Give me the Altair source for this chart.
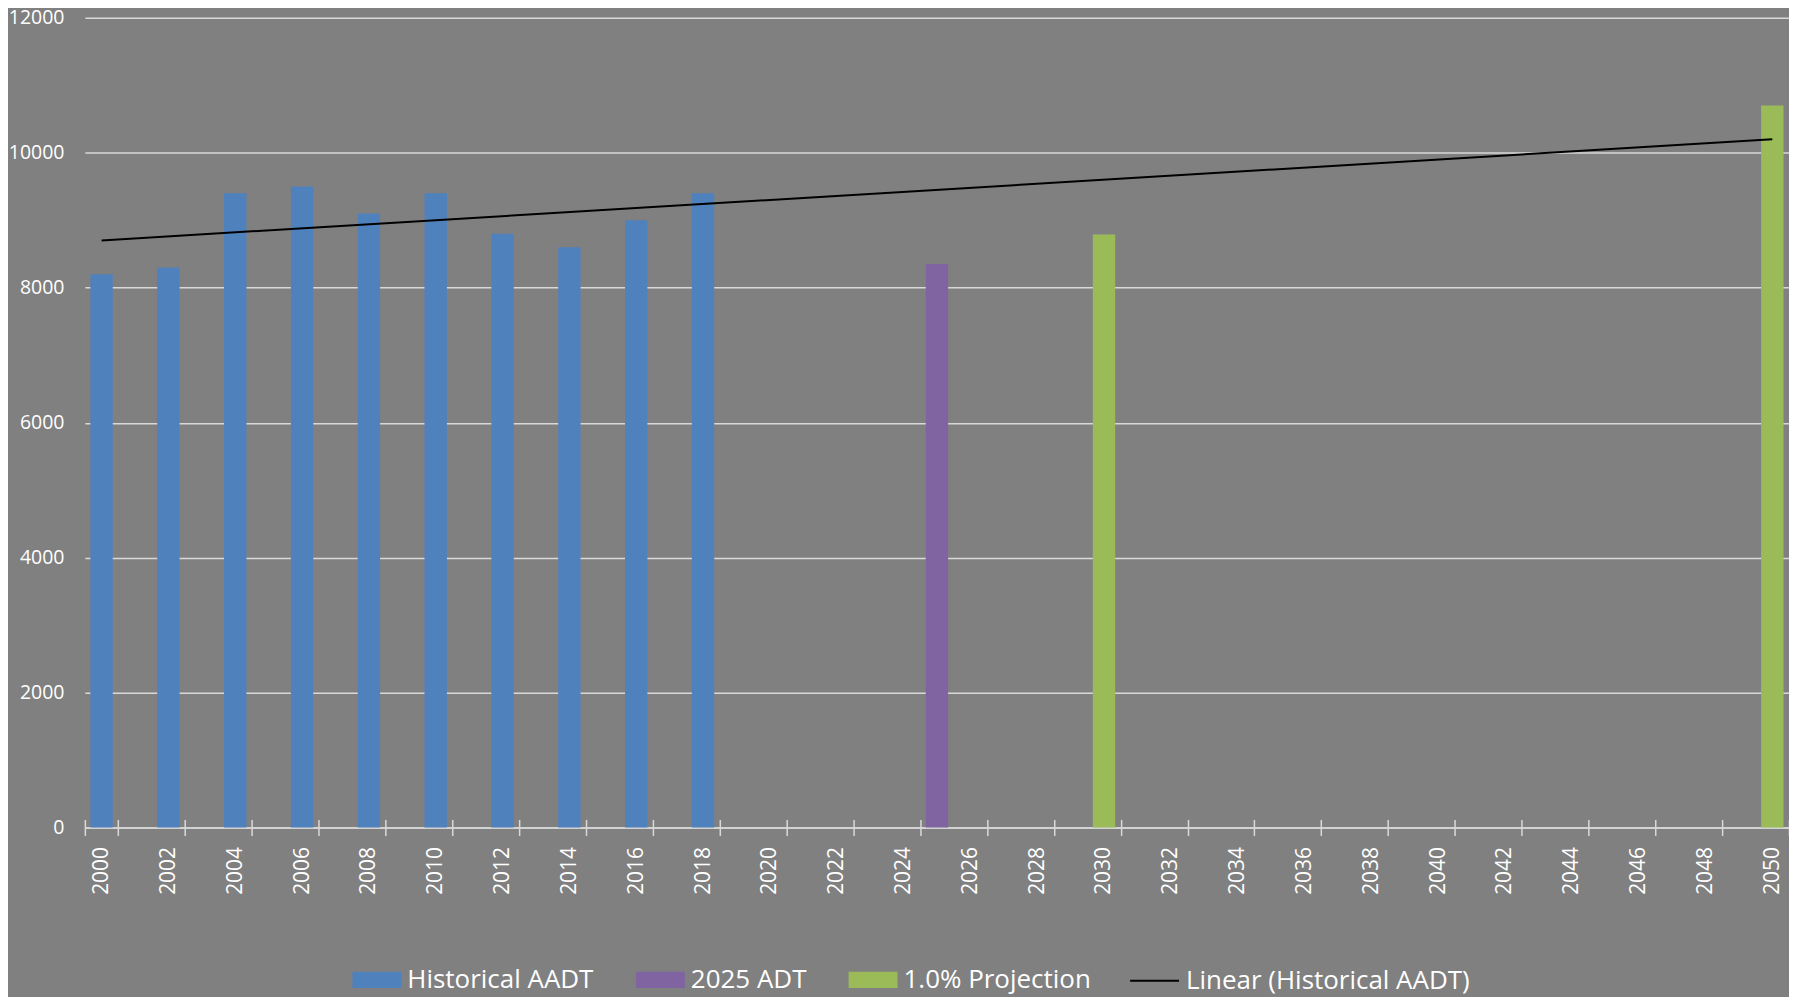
import altair as alt
import pandas as pd

# ---- data ----
all_years = list(range(2000, 2051))
x_label_years = list(range(2000, 2051, 2))
y_ticks = [0, 2000, 4000, 6000, 8000, 10000, 12000]

hist_years = [2000, 2002, 2004, 2006, 2008, 2010, 2012, 2014, 2016, 2018]
hist_aadt = [8200, 8300, 9400, 9500, 9100, 9400, 8800, 8600, 9000, 9400]

adt_years = [2025]
adt_values = [8350]

proj_years = [2030, 2050]
proj_values = [8790, 10700]

series_names = ["Historical AADT", "2025 ADT", "1.0% Projection"]
series_colors = ["#4F81BD", "#8064A2", "#9BBB59"]
trend_name = "Linear (Historical AADT)"

bars_df = pd.DataFrame({
    "year": hist_years + adt_years + proj_years,
    "value": hist_aadt + adt_values + proj_values,
    "series": [series_names[0]] * len(hist_years)
    + [series_names[1]] * len(adt_years)
    + [series_names[2]] * len(proj_years),
})
hist_df = pd.DataFrame({"year": hist_years, "value": hist_aadt})

FONT = "Open Sans"
GRID = "#D9D9D9"

x_scale = alt.Scale(domain=all_years, paddingInner=0, paddingOuter=0)
x_axis = alt.Axis(
    values=x_label_years, tickBand="extent", labelAngle=270,
    labelFont=FONT, labelFontSize=21, labelColor="white",
    labelPadding=11, tickSize=8, tickColor=GRID, tickWidth=1.5,
    domainColor=GRID, domainWidth=1.5, grid=False, title=None,
    orient="bottom",
)
# upper half of the crossing tick marks
x_axis_up = alt.Axis(
    values=x_label_years, tickBand="extent", labels=False, domain=False,
    tickSize=8, tickColor=GRID, tickWidth=1.5, grid=False, title=None,
    orient="bottom", offset=-8,
)
y_scale = alt.Scale(domain=[0, 12000], nice=False)
y_axis = alt.Axis(
    values=y_ticks, format="d", labelFont=FONT, labelFontSize=19.5,
    labelColor="white", labelPadding=21, ticks=False, domain=False,
    grid=True, gridColor=GRID, gridWidth=1.5, title=None,
)

rect_path = "M-1,-0.33L1,-0.33L1,0.33L-1,0.33Z"
legend_common = dict(
    orient="none", direction="horizontal", title=None,
    labelFont=FONT, labelFontSize=26, labelColor="white", labelLimit=0,
    labelOffset=6, symbolSize=2401, padding=0, legendY=939,
)

bars = alt.Chart(bars_df).mark_bar(width=alt.RelativeBandSize(0.67)).encode(
    x=alt.X("year:O", scale=x_scale, axis=x_axis),
    y=alt.Y("value:Q", scale=y_scale, axis=y_axis),
    color=alt.Color(
        "series:N",
        scale=alt.Scale(domain=series_names, range=series_colors),
        legend=alt.Legend(
            symbolType=rect_path, symbolStrokeWidth=0, symbolOpacity=1,
            columnPadding=42, legendX=268, **legend_common,
        ),
    ),
)

trend = (
    alt.Chart(hist_df)
    .transform_regression("year", "value", method="linear", extent=[2000, 2050])
    .transform_calculate(series=f"'{trend_name}'")
    .mark_line(strokeWidth=2)
    .encode(
        x=alt.X("year:O", scale=x_scale, axis=x_axis_up),
        y=alt.Y("value:Q", scale=y_scale, axis=y_axis),
        stroke=alt.Stroke(
            "series:N",
            scale=alt.Scale(domain=[trend_name], range=["black"]),
            legend=alt.Legend(
                symbolType="stroke", symbolStrokeWidth=2,
                legendX=1046, **legend_common,
            ),
        ),
    )
)

chart = (
    alt.layer(bars, trend)
    .resolve_axis(x="independent")
    .properties(
        width=1707, height=811,
        padding={"left": 77, "top": 9, "right": 0, "bottom": 169},
        autosize=alt.AutoSizeParams(type="none"),
        background="#808080",
    )
    .configure_view(strokeWidth=0)
)

chart.save("out.html", embed_options={"renderer": "svg", "actions": False})
